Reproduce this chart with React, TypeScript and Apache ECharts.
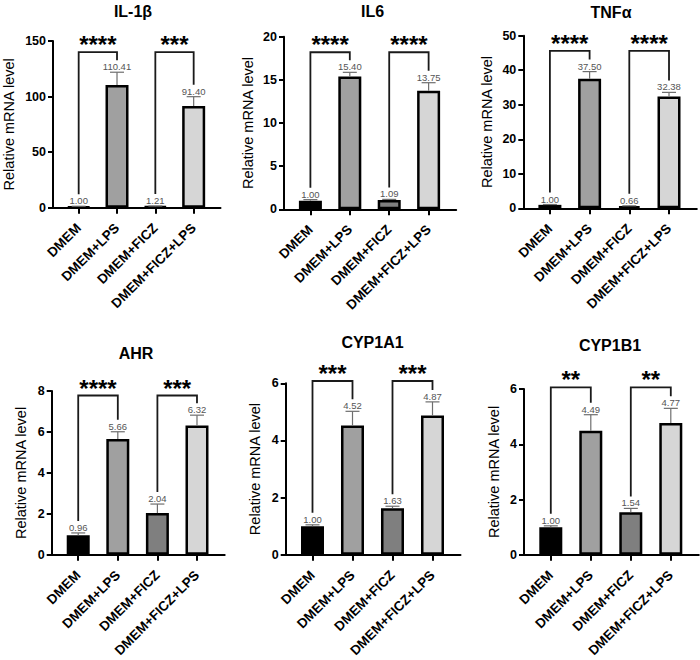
import React, { useEffect, useRef } from "react";
import * as echarts from "echarts";

// Treatment groups shown on every x axis
const groups = ["DMEM", "DMEM+LPS", "DMEM+FICZ", "DMEM+FICZ+LPS"];
const genes = ["IL-1β", "IL6", "TNFα", "AHR", "CYP1A1", "CYP1B1"];

// Mean relative expression and SD per gene
const il1bMean = [1.0, 110.41, 1.21, 91.4];
const il1bSd = [0.3, 11.5, 0.3, 8.5];
const il6Mean = [1.0, 15.4, 1.09, 13.75];
const il6Sd = [0.12, 0.47, 0.06, 0.92];
const tnfaMean = [1.0, 37.5, 0.66, 32.38];
const tnfaSd = [0.1, 2.1, 0.06, 1.2];
const ahrMean = [0.96, 5.66, 2.04, 6.32];
const ahrSd = [0.11, 0.35, 0.44, 0.5];
const cyp1a1Mean = [1.0, 4.52, 1.63, 4.87];
const cyp1a1Sd = [0.05, 0.5, 0.07, 0.48];
const cyp1b1Mean = [1.0, 4.49, 1.54, 4.77];
const cyp1b1Sd = [0.05, 0.58, 0.14, 0.53];

const means = [il1bMean, il6Mean, tnfaMean, ahrMean, cyp1a1Mean, cyp1b1Mean];
const sds = [il1bSd, il6Sd, tnfaSd, ahrSd, cyp1a1Sd, cyp1b1Sd];

// Y axis ranges
const yMax = [150, 20, 50, 8, 6, 6];
const yStep = [50, 5, 10, 2, 2, 2];

// Significance brackets: DMEM vs DMEM+LPS, DMEM+FICZ vs DMEM+FICZ+LPS
const bracketPairs = [
  [0, 1],
  [2, 3],
];
const stars = [
  ["****", "***"],
  ["****", "****"],
  ["****", "****"],
  ["****", "***"],
  ["***", "***"],
  ["**", "**"],
];
const bracketLevel = [140, 18.2, 45.6, 7.78, 6.08, 6.06];

const barColors = ["#000000", "#a0a0a0", "#7f7f7f", "#d6d6d6"];

const FONT = 'Arial, "Liberation Sans", Helvetica, sans-serif';

// Panel placement in the 700x660 canvas
const layout = [
  { left: 52.3, top: 41, width: 168.2, height: 166.7, nameGap: 37, tx: 133, ty: 11 },
  { left: 284, top: 36.7, width: 172.2, height: 172.6, nameGap: 29, tx: 372.5, ty: 11 },
  { left: 523.3, top: 35.7, width: 173.5, height: 172.6, nameGap: 29, tx: 611, ty: 12 },
  { left: 51.7, top: 391, width: 173, height: 170, nameGap: 23, tx: 136, ty: 353.8 },
  { left: 285.7, top: 383.3, width: 174.8, height: 176.7, nameGap: 23, tx: 372.5, ty: 342.5 },
  { left: 524, top: 389, width: 174.8, height: 171.7, nameGap: 23, tx: 610, ty: 345.3 },
];

function buildOption() {
  const grid: any[] = [];
  const xAxis: any[] = [];
  const yAxis: any[] = [];
  const series: any[] = [];
  const graphic: any[] = [];

  genes.forEach((gene, i) => {
    const L = layout[i];
    const mean = means[i];
    const sd = sds[i];
    grid.push({ left: L.left, top: L.top, width: L.width, height: L.height, containLabel: false });
    xAxis.push({
      type: "value",
      gridIndex: i,
      min: -0.67,
      max: 3.7,
      splitLine: { show: false },
      axisLine: { show: true, onZero: false, lineStyle: { color: "#000", width: 2 } },
      axisTick: { show: true, customValues: [0, 1, 2, 3], length: 6, lineStyle: { color: "#000", width: 2 } },
      axisLabel: {
        show: true,
        customValues: [0, 1, 2, 3],
        formatter: (v: number) => groups[Math.round(v)] ?? "",
        rotate: 45,
        margin: 18,
        color: "#000",
        fontWeight: "bold",
        fontSize: 13.5,
        fontFamily: FONT,
      },
    });
    yAxis.push({
      type: "value",
      gridIndex: i,
      min: 0,
      max: yMax[i],
      interval: yStep[i],
      splitLine: { show: false },
      axisLine: { show: true, onZero: false, lineStyle: { color: "#000", width: 2 } },
      axisTick: { show: true, length: 5, lineStyle: { color: "#000", width: 2 } },
      axisLabel: { color: "#000", fontWeight: "bold", fontSize: 12.5, fontFamily: FONT, margin: 7 },
      name: "Relative mRNA level",
      nameLocation: "middle",
      nameRotate: 90,
      nameGap: L.nameGap,
      nameTextStyle: { color: "#000", fontSize: 14.5, fontFamily: FONT },
    });

    series.push({
      type: "bar",
      xAxisIndex: i,
      yAxisIndex: i,
      barWidth: 23,
      data: mean.map((v, k) => ({ value: [k, v], itemStyle: { color: barColors[k] } })),
      itemStyle: { borderColor: "#000", borderWidth: 2.5 },
      z: 2,
    });

    // Error bars (upper half) with the mean value above the cap
    series.push({
      type: "custom",
      xAxisIndex: i,
      yAxisIndex: i,
      clip: false,
      z: 3,
      data: mean.map((v, k) => [k, v, sd[k]]),
      renderItem: (_p: any, api: any) => {
        const x = api.value(0);
        const m = api.value(1);
        const s = api.value(2);
        const b = api.coord([x, m]);
        const t = api.coord([x, m + s]);
        const st = { stroke: "#6e6e6e", lineWidth: 1.2 };
        return {
          type: "group",
          children: [
            { type: "line", shape: { x1: b[0], y1: b[1], x2: t[0], y2: t[1] }, style: st },
            { type: "line", shape: { x1: t[0] - 7, y1: t[1], x2: t[0] + 7, y2: t[1] }, style: st },
            {
              type: "text",
              x: t[0],
              y: t[1] - 0.5,
              style: {
                text: m.toFixed(2),
                fill: "#555",
                fontSize: 9.5,
                fontFamily: FONT,
                align: "center",
                verticalAlign: "bottom",
              },
            },
          ],
        };
      },
    });

    // Significance brackets
    series.push({
      type: "custom",
      xAxisIndex: i,
      yAxisIndex: i,
      clip: false,
      z: 4,
      data: bracketPairs.map(([a, b]) => [a, b, bracketLevel[i]]),
      renderItem: (p: any, api: any) => {
        const a = api.value(0);
        const b = api.value(1);
        const lv = api.value(2);
        const pa = api.coord([a, lv]);
        const pb = api.coord([b, lv]);
        const ya = api.coord([a, mean[a] + sd[a]])[1] - 12;
        const yb = api.coord([b, mean[b] + sd[b]])[1] - 12;
        return {
          type: "group",
          children: [
            {
              type: "polyline",
              shape: { points: [[pa[0], ya], [pa[0], pa[1]], [pb[0], pb[1]], [pb[0], yb]] },
              style: { stroke: "#1a1a1a", lineWidth: 1.8, fill: null },
            },
            {
              type: "text",
              x: (pa[0] + pb[0]) / 2,
              y: pa[1] - 7.5,
              style: {
                text: stars[i][p.dataIndex],
                fill: "#000",
                fontSize: 24,
                fontWeight: "bold",
                fontFamily: FONT,
                align: "center",
                verticalAlign: "middle",
              },
            },
          ],
        };
      },
    });

    graphic.push({
      type: "text",
      x: L.tx,
      y: L.ty,
      style: {
        text: gene,
        fill: "#000",
        fontSize: 16,
        fontWeight: "bold",
        fontFamily: FONT,
        align: "center",
        verticalAlign: "middle",
      },
    });
  });

  return {
    animation: false,
    backgroundColor: "#ffffff",
    grid,
    xAxis,
    yAxis,
    series,
    graphic,
  };
}

export default function App() {
  const ref = useRef<HTMLDivElement>(null);
  useEffect(() => {
    if (!ref.current) return;
    const chart = echarts.init(ref.current, undefined, { renderer: "svg" });
    chart.setOption(buildOption() as any);
    return () => chart.dispose();
  }, []);
  return (
    <div
      ref={ref}
      style={{ position: "absolute", left: 0, top: 0, width: 700, height: 660, background: "#fff" }}
    />
  );
}
